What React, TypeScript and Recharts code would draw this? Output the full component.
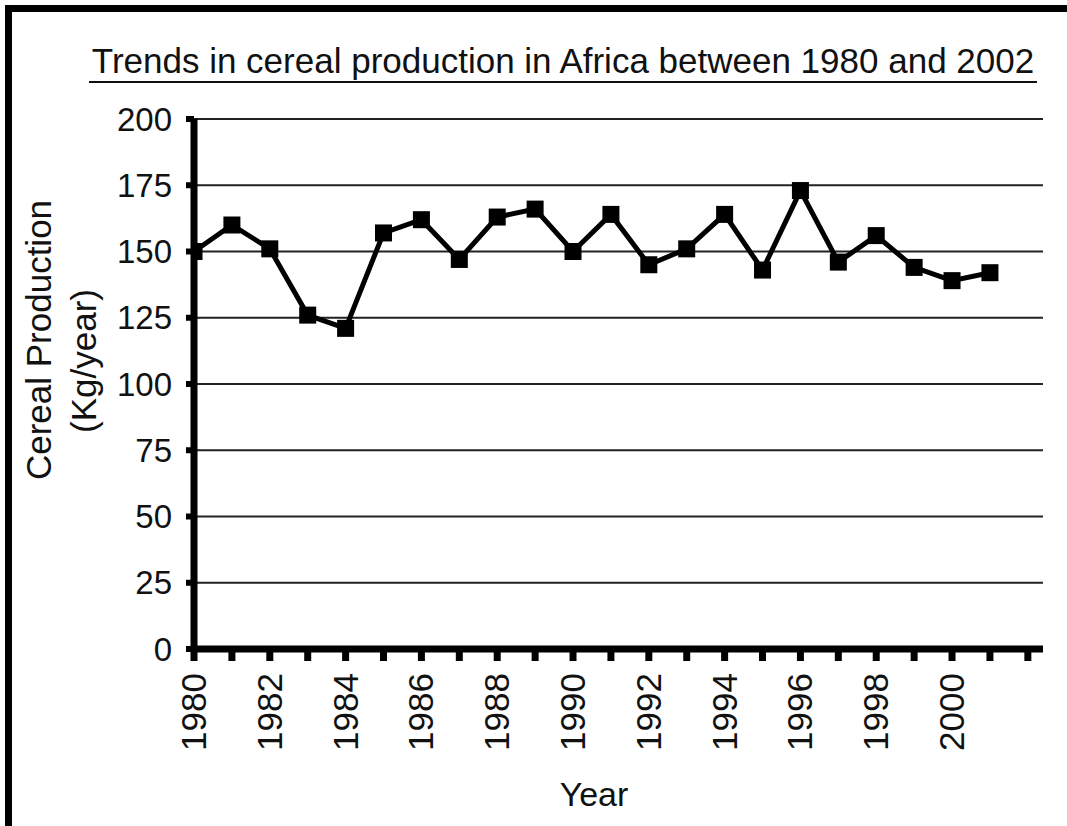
import React from 'react';
import { LineChart, Line, XAxis, YAxis, CartesianGrid } from 'recharts';

const years = [1980, 1981, 1982, 1983, 1984, 1985, 1986, 1987, 1988, 1989, 1990, 1991, 1992, 1993, 1994, 1995, 1996, 1997, 1998, 1999, 2000, 2001];
const production = [150, 160, 151, 126, 121, 157, 162, 147, 163, 166, 150, 164, 145, 151, 164, 143, 173, 146, 156, 144, 139, 142];
const xTicks = [1980, 1981, 1982, 1983, 1984, 1985, 1986, 1987, 1988, 1989, 1990, 1991, 1992, 1993, 1994, 1995, 1996, 1997, 1998, 1999, 2000, 2001, 2002];
const xLabelYears = [1980, 1982, 1984, 1986, 1988, 1990, 1992, 1994, 1996, 1998, 2000];
const yTicks = [0, 25, 50, 75, 100, 125, 150, 175, 200];

const title = 'Trends in cereal production in Africa between 1980 and 2002';
const yLabel1 = 'Cereal Production';
const yLabel2 = '(Kg/year)';
const xLabel = 'Year';

const data = years.map((y, i) => ({ year: y, value: production[i] }));

const FONT = '"Liberation Sans", Arial, sans-serif';

const XTick = (props: any) => {
  const { x, y, payload } = props;
  if (!xLabelYears.includes(payload.value)) return <g />;
  return (
    <text
      transform={`translate(${x + 12}, ${y + 10}) rotate(-90)`}
      textAnchor="end"
      fontSize={35}
      fontFamily={FONT}
      fill="#111"
    >
      {payload.value}
    </text>
  );
};

const SquareDot = (props: any) => {
  const { cx, cy, index } = props;
  return <rect key={`d${index}`} x={cx - 8.5} y={cy - 8.5} width={17} height={17} fill="#000" />;
};

export default function App() {
  return (
    <div style={{ position: 'absolute', left: 0, top: 0, width: 1067, height: 826, background: '#fff', overflow: 'hidden' }}>
      <LineChart
        width={1067}
        height={826}
        data={data}
        margin={{ top: 119, right: 24, bottom: 77, left: 94 }}
      >
        <CartesianGrid horizontal vertical={false} stroke="#222" strokeWidth={2} />
        <XAxis
          dataKey="year"
          type="number"
          domain={[1980, 2002.4]}
          ticks={xTicks}
          interval={0}
          height={100}
          tickSize={12}
          tickMargin={2}
          axisLine={{ stroke: '#000', strokeWidth: 7 }}
          tickLine={{ stroke: '#000', strokeWidth: 7 }}
          tick={<XTick />}
          allowDataOverflow
        />
        <YAxis
          type="number"
          domain={[0, 200]}
          ticks={yTicks}
          interval={0}
          width={100}
          tickSize={8}
          tickMargin={14}
          axisLine={{ stroke: '#000', strokeWidth: 7 }}
          tickLine={{ stroke: '#000', strokeWidth: 6 }}
          tick={{ fontSize: 33, fill: '#111', fontFamily: FONT }}
        />
        <Line
          dataKey="value"
          stroke="#000"
          strokeWidth={5}
          isAnimationActive={false}
          dot={<SquareDot />}
          activeDot={false}
          type="linear"
        />
      </LineChart>
      <svg width={1067} height={826} style={{ position: 'absolute', left: 0, top: 0, pointerEvents: 'none' }}>
        <rect x={5} y={5} width={1062} height={7} fill="#000" />
        <rect x={5} y={5} width={7} height={821} fill="#000" />
        <text x={563} y={73} textAnchor="middle" fontSize={35} fontFamily={FONT} fill="#111">{title}</text>
        <line x1={89} x2={1037} y1={82} y2={82} stroke="#111" strokeWidth={2} />
        <text transform="translate(51, 340) rotate(-90)" textAnchor="middle" fontSize={35} fontFamily={FONT} fill="#111">{yLabel1}</text>
        <text transform="translate(96, 361) rotate(-90)" textAnchor="middle" fontSize={35} fontFamily={FONT} fill="#111">{yLabel2}</text>
        <text x={594} y={806} textAnchor="middle" fontSize={34} fontFamily={FONT} fill="#111">{xLabel}</text>
      </svg>
    </div>
  );
}
